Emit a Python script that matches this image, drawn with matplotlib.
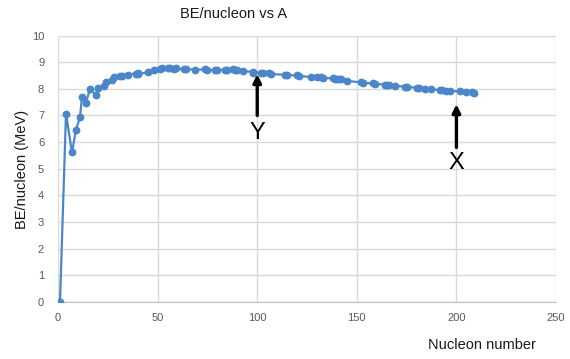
import matplotlib
matplotlib.use("Agg")
import matplotlib.pyplot as plt

plt.rcParams['font.family'] = ['Liberation Sans', 'DejaVu Sans']

# Mass number (A) of the most abundant isotope of each element, in order of Z
nucleon_number = [1, 4, 7, 9, 11, 12, 14, 16, 19, 20, 23, 24, 27, 28, 31, 32, 35, 40, 39, 40,
                  45, 48, 51, 52, 55, 56, 59, 58, 63, 64, 69, 74, 75, 80, 79, 84, 85, 88, 89, 90,
                  93, 98, 98, 102, 103, 106, 107, 114, 115, 120, 121, 130, 127, 132, 133, 138,
                  139, 140, 141, 142, 145, 152, 153, 158, 159, 164, 165, 166, 169, 174, 175, 180,
                  181, 184, 187, 192, 193, 195, 197, 202, 205, 208, 209]
# Binding energy per nucleon (MeV)
be_per_nucleon = [0.0, 7.07, 5.61, 6.46, 6.93, 7.68, 7.48, 7.98, 7.78, 8.03, 8.11, 8.26, 8.33, 8.45,
                  8.48, 8.49, 8.52, 8.60, 8.56, 8.55, 8.62, 8.72, 8.74, 8.78, 8.77, 8.79, 8.77,
                  8.73, 8.75, 8.74, 8.72, 8.73, 8.70, 8.71, 8.69, 8.72, 8.70, 8.73, 8.71, 8.71,
                  8.66, 8.64, 8.61, 8.61, 8.58, 8.58, 8.55, 8.53, 8.52, 8.50, 8.48, 8.43, 8.45,
                  8.43, 8.41, 8.39, 8.38, 8.38, 8.35, 8.35, 8.30, 8.24, 8.23, 8.20, 8.19, 8.16,
                  8.15, 8.14, 8.11, 8.08, 8.07, 8.04, 8.02, 8.01, 7.98, 7.95, 7.94, 7.93, 7.92,
                  7.90, 7.88, 7.87, 7.85]

x_ticks = [0, 50, 100, 150, 200, 250]
y_ticks = list(range(0, 11))

fig = plt.figure(figsize=(5.7, 3.59), dpi=100)
ax = fig.add_axes([0.1018, 0.159, 0.8737, 0.742])

color = '#4a86c8'
ax.plot(nucleon_number, be_per_nucleon, color=color, lw=1.6, marker='o',
        markersize=4.6, markerfacecolor=color, markeredgecolor=color, zorder=3)

ax.set_xlim(0, 250)
ax.set_ylim(0, 10)
ax.set_xticks(x_ticks)
ax.set_yticks(y_ticks)
ax.grid(True, color='#d9d9d9', lw=1.0, zorder=0)
ax.set_axisbelow(True)
for s in ['top', 'right', 'left']:
    ax.spines[s].set_visible(False)
ax.spines['bottom'].set_color('#bfbfbf')
ax.tick_params(axis='both', length=0, labelsize=8, labelcolor='#595959')
ax.tick_params(axis='y', pad=10)
ax.tick_params(axis='x', pad=8)

fig.text(0.409, 0.96, 'BE/nucleon vs A', ha='center', va='center', fontsize=10.5, color='#1a1a1a')
fig.text(0.039, 0.529, 'BE/nucleon (MeV)', ha='center', va='center', rotation=90,
         fontsize=10.5, color='#1a1a1a')
fig.text(0.846, 0.04, 'Nucleon number', ha='center', va='center', fontsize=10.5, color='#1a1a1a')

arrow = dict(arrowstyle='-|>', lw=2.4, color='black', mutation_scale=12, shrinkA=0, shrinkB=0)
ax.annotate('', xy=(100, 8.55), xytext=(100, 7.0), arrowprops=arrow)
ax.text(100, 6.35, 'Y', ha='center', va='center', fontsize=17, color='black')
ax.annotate('', xy=(200, 7.42), xytext=(200, 5.8), arrowprops=arrow)
ax.text(200, 5.2, 'X', ha='center', va='center', fontsize=17, color='black')

fig.savefig('out.png', dpi=100)
